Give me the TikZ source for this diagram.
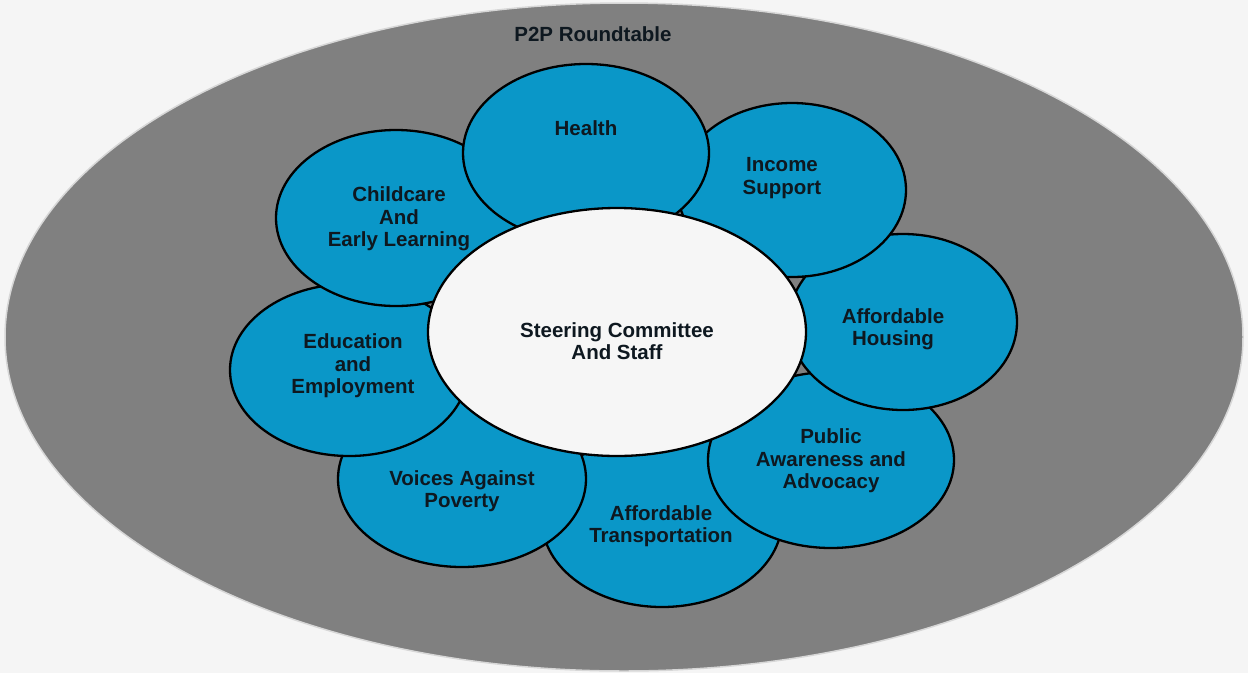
\documentclass[tikz,border=0pt]{standalone}
\usepackage{fontspec}
\setmainfont{Liberation Sans}
\usetikzlibrary{shapes.geometric}
\definecolor{bgc}{RGB}{245,245,245}
\definecolor{outer}{RGB}{128,128,128}
\definecolor{halo}{RGB}{215,215,215}
\definecolor{petal}{RGB}{10,151,200}
\definecolor{ink}{RGB}{14,24,32}
\definecolor{core}{RGB}{246,246,246}
\tikzset{
  petalbox/.style={ellipse, draw=black, line width=2.3pt, fill=petal, inner sep=0pt},
  corebox/.style={ellipse, draw=black, line width=2.3pt, fill=core, inner sep=0pt},
  lbl/.style={text=ink, align=center, font=\fontsize{20.5}{22.5}\selectfont\bfseries, inner sep=0pt}
}
\begin{document}
\begin{tikzpicture}[x=1pt,y=-1pt]
\fill[bgc] (0,0) rectangle (1248,673);
\useasboundingbox (0,0) rectangle (1248,673);
\node[ellipse, fill=outer, draw=halo, line width=1.5pt, minimum width=1238pt, minimum height=668pt, inner sep=0pt] (roundtable) at (624,337) {};
\node[lbl] (roundtableT) at (593,34) {P2P Roundtable};
% petals, bottom to top
\node[petalbox, minimum width=240pt, minimum height=174pt] (transport) at (662,520) {};
\node[petalbox, minimum width=248pt, minimum height=176pt] (voices) at (462,479) {};
\node[petalbox, minimum width=238pt, minimum height=172pt] (education) at (349,370) {};
\node[petalbox, minimum width=240pt, minimum height=176pt] (childcare) at (396,218) {};
\node[petalbox, minimum width=246pt, minimum height=176pt] (public) at (831,460) {};
\node[petalbox, minimum width=228pt, minimum height=176pt] (housing) at (903,322) {};
\node[petalbox, minimum width=228pt, minimum height=174pt] (income) at (792,190) {};
\node[petalbox, minimum width=246pt, minimum height=178pt] (health) at (586,153) {};
\node[corebox, minimum width=378pt, minimum height=248pt] (steering) at (617,332) {};
% labels
\node[lbl] (healthT) at (586,128) {Health};
\node[lbl] (incomeT) at (782,178) {Income\\Support};
\node[lbl] (housingT) at (893,329) {Affordable\\Housing};
\node[lbl] (publicT) at (831,461) {Public\\Awareness and\\Advocacy};
\node[lbl] (transportT) at (661,526) {Affordable\\Transportation};
\node[lbl] (voicesT) at (462,491) {Voices Against\\Poverty};
\node[lbl] (educationT) at (353,366) {Education\\and\\Employment};
\node[lbl] (childcareT) at (399,219) {Childcare\\And\\Early Learning};
\node[lbl] (steeringT) at (617,341) {Steering Committee\\And Staff};
\end{tikzpicture}
\end{document}
